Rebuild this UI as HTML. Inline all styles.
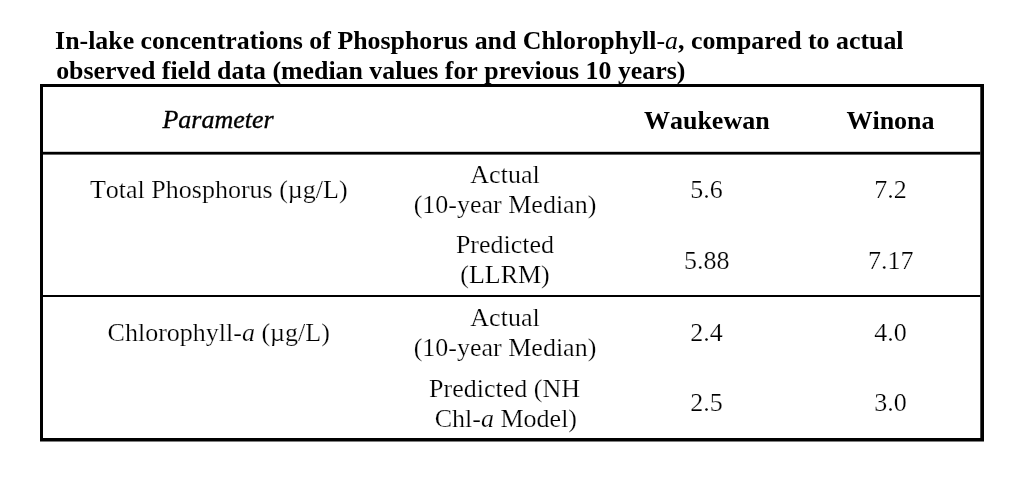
<!DOCTYPE html>
<html lang="en">
<head>
<meta charset="utf-8">
<title>In-lake concentrations</title>
<style>
html,body{margin:0;padding:0;background:#fff;}
body{width:1024px;height:489px;overflow:hidden;}
svg{display:block;}
text{font-family:"Liberation Serif","Times New Roman",serif;font-size:26px;fill:#000;font-kerning:none;}
.r text, text.r{stroke:#fff;stroke-width:0.22px;paint-order:fill stroke;}
.b{font-weight:bold;}
.i{font-style:italic;}
.n{font-weight:normal;}
.m{text-anchor:middle;}
</style>
</head>
<body>
<svg width="1024" height="489" viewBox="0 0 1024 489">
<rect x="0" y="0" width="1024" height="489" fill="#fff"/>
<!-- table frame -->
<path fill="#000" fill-rule="evenodd" d="M40 84H984V441.4H40Z M43 87V438H980.3V87Z"/>
<rect x="43" y="151.8" width="937.3" height="2.8" fill="#000"/>
<rect x="43" y="295" width="937.3" height="2" fill="#000"/>
<!-- title -->
<text class="b" x="55.1" y="49" style="font-size:25.87px">In-lake concentrations of Phosphorus and Chlorophyll<tspan class="n">-</tspan><tspan class="n i">a</tspan>, compared to actual</text>
<text class="b" x="56.2" y="79" style="font-size:25.87px">observed field data (median values for previous 10 years)</text>
<!-- header -->
<text class="i m" x="218" y="128" style="stroke:#000;stroke-width:0.35px">Parameter</text>
<text class="b m" x="706.8" y="129">Waukewan</text>
<text class="b m" x="890.5" y="129">Winona</text>
<g class="r">
<!-- row group 1 -->
<text class="m" x="218.8" y="198">Total Phosphorus (µg/L)</text>
<text class="m" x="505" y="183">Actual</text>
<text class="m" x="505" y="213">(10-year Median)</text>
<text class="m" x="706.5" y="198">5.6</text>
<text class="m" x="890.5" y="198">7.2</text>
<text class="m" x="505" y="253">Predicted</text>
<text class="m" x="505" y="283">(LLRM)</text>
<text class="m" x="706.7" y="269">5.88</text>
<text class="m" x="890.7" y="269">7.17</text>
<!-- row group 2 -->
<text class="m" x="218.7" y="341">Chlorophyll-<tspan class="i">a</tspan> (µg/L)</text>
<text class="m" x="505" y="326">Actual</text>
<text class="m" x="505" y="356">(10-year Median)</text>
<text class="m" x="706.5" y="341">2.4</text>
<text class="m" x="890.5" y="341">4.0</text>
<text class="m" x="504.5" y="397">Predicted (NH</text>
<text class="m" x="505.9" y="427">Chl-<tspan class="i">a</tspan> Model)</text>
<text class="m" x="706.5" y="411">2.5</text>
<text class="m" x="890.5" y="411">3.0</text>
</g>
</svg>
</body>
</html>
